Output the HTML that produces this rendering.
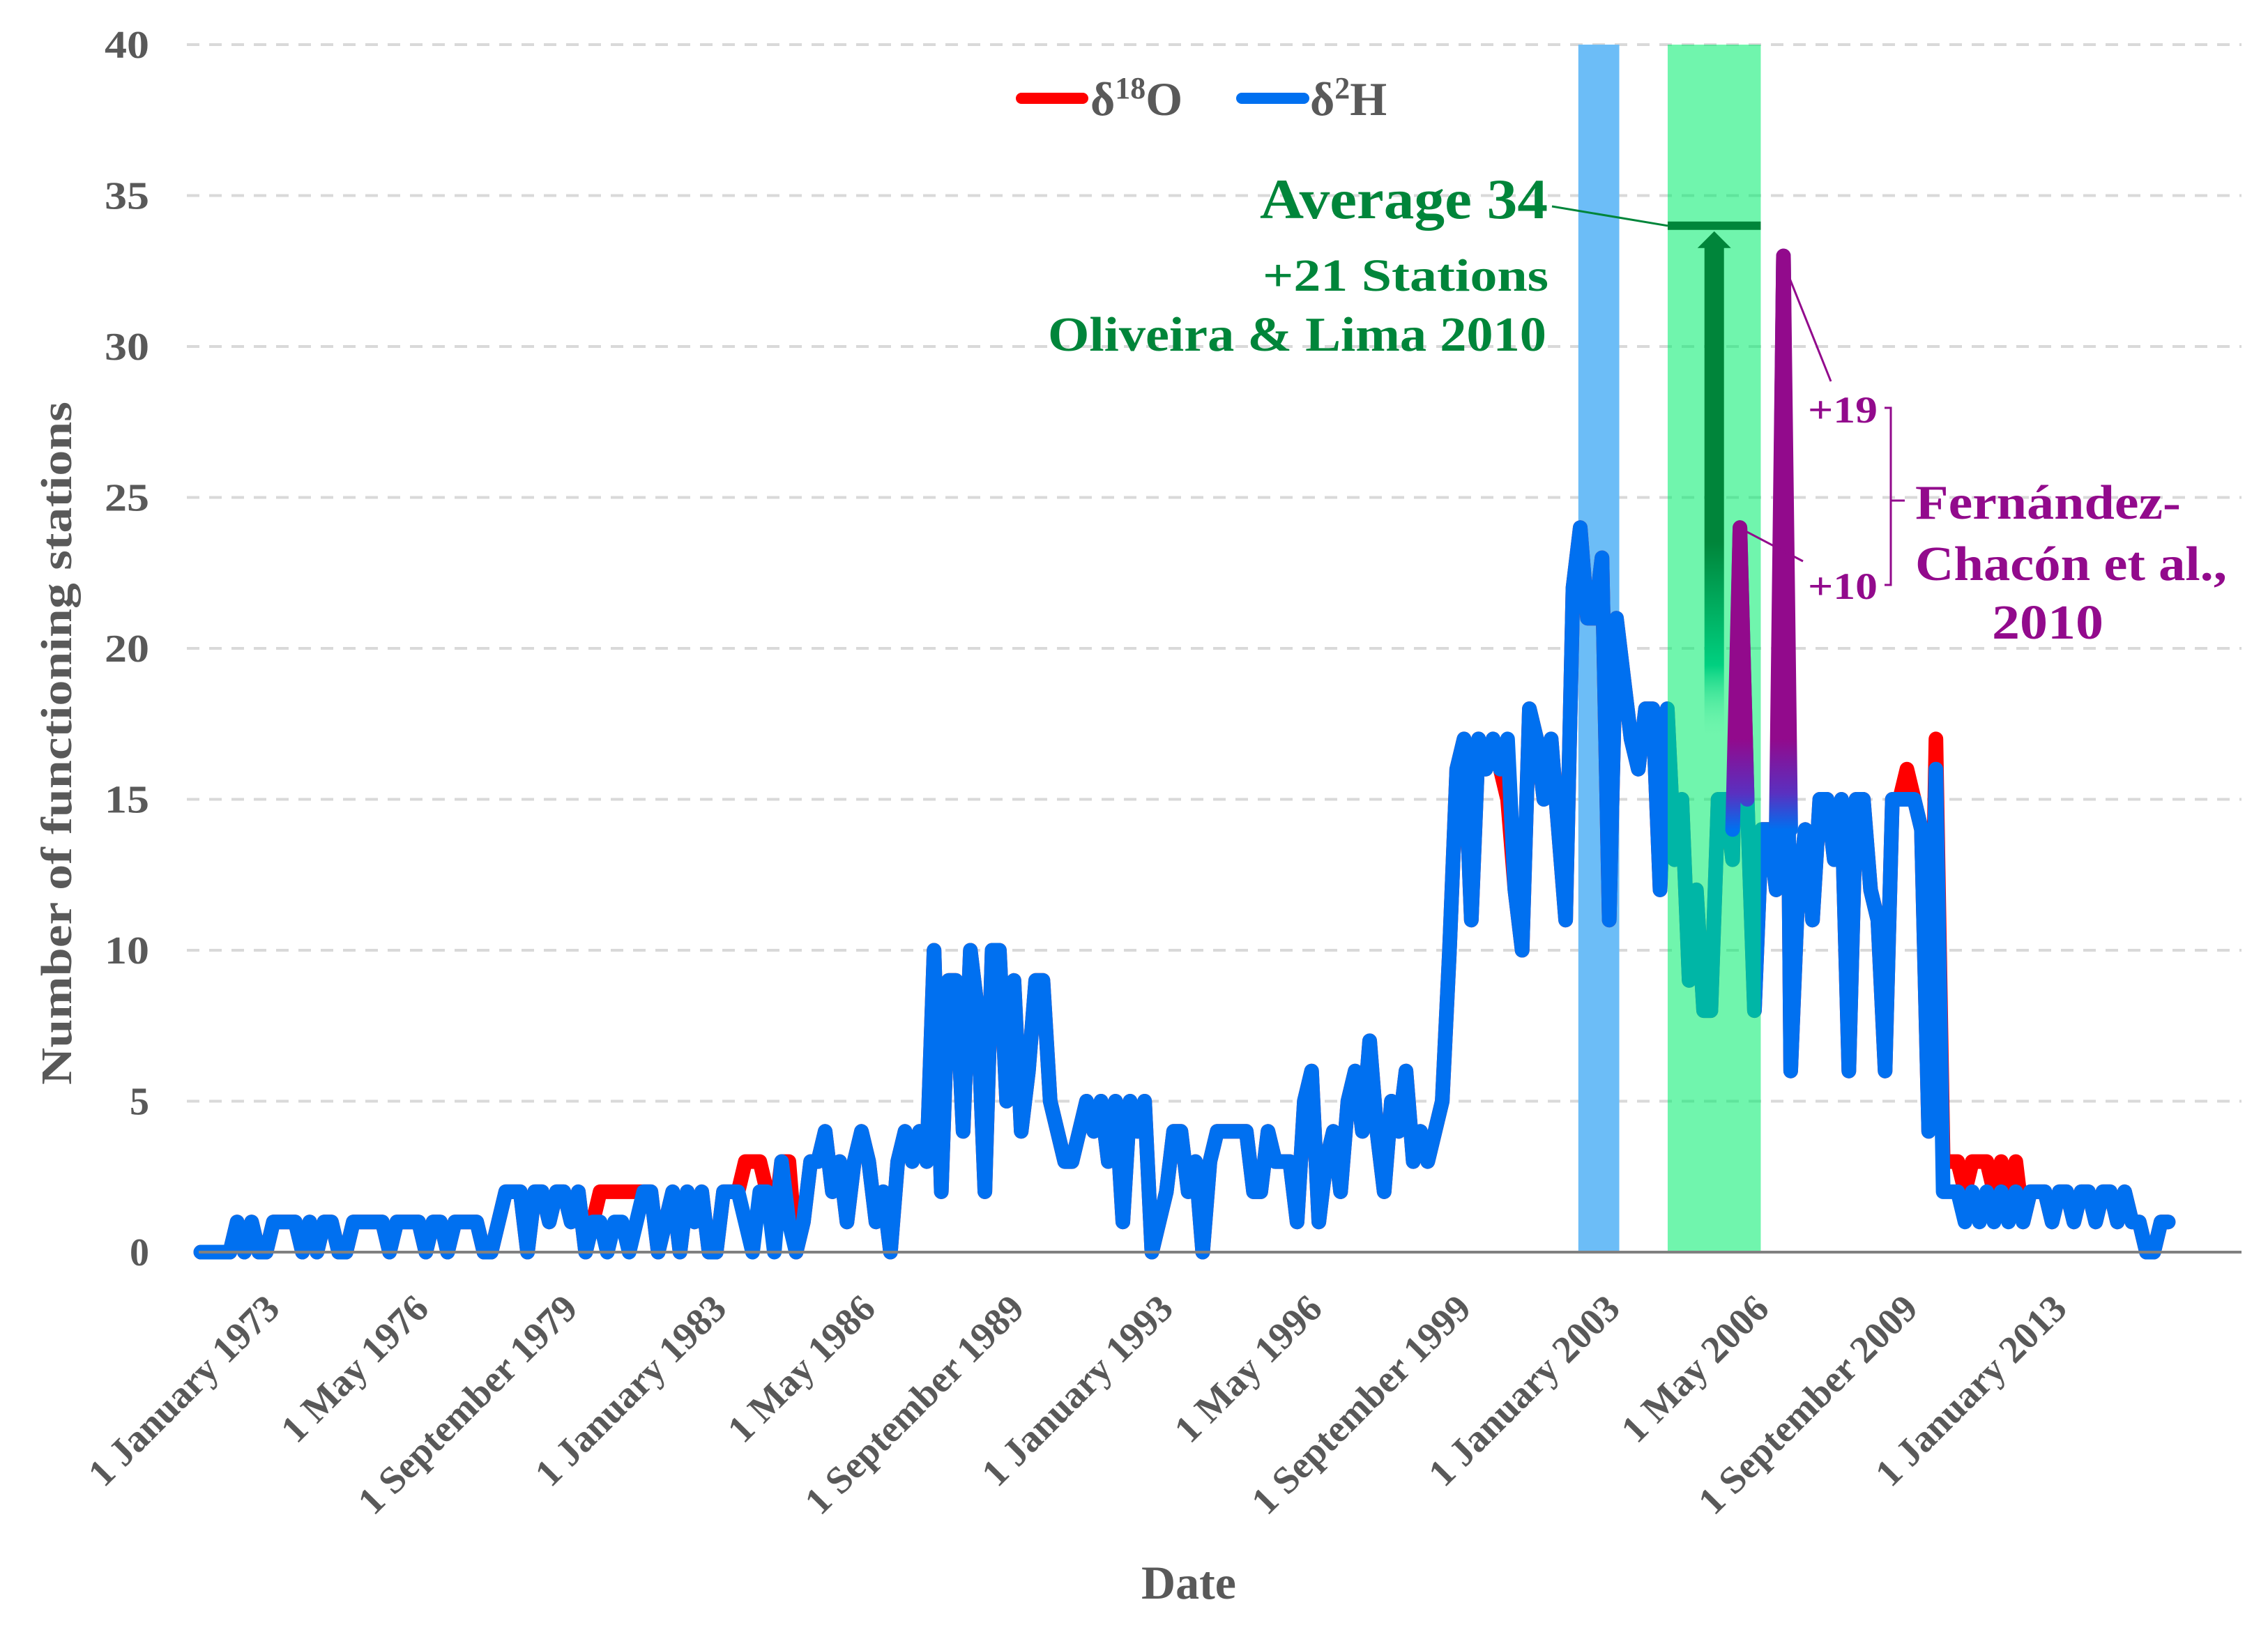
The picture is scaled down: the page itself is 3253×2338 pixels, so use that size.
<!DOCTYPE html>
<html><head><meta charset="utf-8">
<style>
html,body{margin:0;padding:0;background:#fff;}
svg{display:block;font-family:"Liberation Serif",serif;font-weight:bold;}
</style></head>
<body>
<svg id="chart" width="3253" height="2338" viewBox="0 0 3253 2338" xmlns="http://www.w3.org/2000/svg">
<defs>
<linearGradient id="arrowGrad" x1="0" y1="0" x2="0" y2="1">
<stop offset="0" stop-color="#00853a"/><stop offset="0.6" stop-color="#00853a"/><stop offset="0.85" stop-color="#00d080"/><stop offset="1" stop-color="#70f5ad" stop-opacity="0"/>
</linearGradient>
</defs>
<g id="grid"></g>
<g id="bands"></g>
<g id="series"></g>
<g id="overlay"></g>
<g id="axes"></g>
<text x="0" y="0" transform="translate(102,1066) rotate(-90)" text-anchor="middle" font-size="62" fill="#595959" textLength="980" lengthAdjust="spacingAndGlyphs">Number of functioning stations</text>
<text x="1705" y="2293" text-anchor="middle" font-size="68" fill="#595959">Date</text>
<g>
<line x1="1465" y1="141" x2="1553" y2="141" stroke="#ff0000" stroke-width="16" stroke-linecap="round"/>
<text x="1564" y="165" font-size="68" fill="#595959">δ<tspan font-size="44" dy="-24">18</tspan><tspan dy="24">O</tspan></text>
<line x1="1781" y1="141" x2="1870" y2="141" stroke="#0070f0" stroke-width="16" stroke-linecap="round"/>
<text x="1879" y="165" font-size="68" fill="#595959">δ<tspan font-size="44" dy="-24">2</tspan><tspan dy="24">H</tspan></text>
</g>
<g fill="#00853a">
<text x="2220" y="313" text-anchor="end" font-size="82" textLength="413" lengthAdjust="spacingAndGlyphs">Average 34</text>
<text x="2221" y="417" text-anchor="end" font-size="66" textLength="410" lengthAdjust="spacingAndGlyphs">+21 Stations</text>
<text x="2218" y="503" text-anchor="end" font-size="70" textLength="715" lengthAdjust="spacingAndGlyphs">Oliveira &amp; Lima 2010</text>
</g>
<g fill="#920a8c">
<text x="2593" y="606" font-size="54" textLength="100" lengthAdjust="spacingAndGlyphs">+19</text>
<text x="2593" y="859" font-size="54" textLength="100" lengthAdjust="spacingAndGlyphs">+10</text>
<text x="2747" y="744" font-size="70" textLength="381" lengthAdjust="spacingAndGlyphs">Fernández-</text>
<text x="2747" y="832" font-size="70" textLength="447" lengthAdjust="spacingAndGlyphs">Chacón et al.,</text>
<text x="2857" y="916" font-size="70" textLength="160" lengthAdjust="spacingAndGlyphs">2010</text>
<path d="M2703 585 H2712 V839 H2703 M2712 718 H2732" fill="none" stroke="#920a8c" stroke-width="3"/>
</g>
</svg>
<script>
// ---- chart data ----
const yTicks = [0,5,10,15,20,25,30,35,40];
const tickMonths = [0,40,80,120,160,200,240,280,320,360,400,440,480];
const tickLabels = ["1 January 1973","1 May 1976","1 September 1979","1 January 1983","1 May 1986","1 September 1989","1 January 1993","1 May 1996","1 September 1999","1 January 2003","1 May 2006","1 September 2009","1 January 2013"];
const monthsPerPoint = 1.95;
const d2H = [
0,0,0,0,0, 1,0,1,0,0, 1,1,1,1,0, 1,0,1,1,0, 0,1,1,1,1, 1,0,1,1,1, 1,0,1,1,0, 1,1,1,1,0,
0,1,2,2,2, 0,2,2,1,2, 2,1,2,0,1, 1,0,1,1,0, 1,2,2,0,1, 2,0,2,1,2, 0,0,2,2,2, 1,0,2,2,0,
3,1,0,1,3, 3,4,2,3,1, 3,4,3,1,2, 0,3,4,3,4, 3,10,2,9,9, 4,10,8,2,10, 10,5,9,4,6, 9,9,5,4,3,
3,4,5,4,5, 3,5,1,5,4, 5,0,1,2,4, 4,2,3,0,3, 4,4,4,4,4, 2,2,4,3,3, 3,1,5,6,1, 3,4,2,5,6,
4,7,4,2,5, 4,6,3,4,3, 4,5,10,16,17, 11,17,16,17,16, 17,12,10,18,17, 15,17,14,11,22, 24,21,21,23,11, 21,19,17,16,18,
18,12,18,13,15, 9,12,8,8,15, 15,13,24,15,8, 14,14,12,33,6, 12,14,11,15,15, 13,15,6,15,15, 12,11,6,15,15, 15,15,14,4,16,
2,2,2,1,2, 1,2,1,2,1, 2,1,2,2,2, 1,2,2,1,2, 2,1,2,2,1, 2,1,1,0,0, 1,1];
const d18O = [
0,0,0,0,0, 1,0,1,0,0, 1,1,1,1,0, 1,0,1,1,0, 0,1,1,1,1, 1,0,1,1,1, 1,0,1,1,0, 1,1,1,1,0,
0,1,2,2,2, 0,2,2,1,2, 2,1,2,0,1, 2,2,2,2,2, 2,2,2,0,1, 2,0,2,1,2, 0,0,2,2,2, 3,3,3,2,1,
3,3,0,1,3, 3,4,2,3,1, 3,4,3,1,2, 0,3,4,3,4, 3,10,2,9,9, 4,10,8,2,10, 10,5,9,4,6, 9,9,5,4,3,
3,4,5,4,5, 3,5,1,5,4, 5,0,1,2,4, 4,2,3,0,3, 4,4,4,4,4, 2,2,4,3,3, 3,1,5,6,1, 3,4,2,5,6,
4,7,4,2,5, 4,6,3,4,3, 4,5,10,16,17, 11,17,16,17,16, 15,12,10,18,17, 15,17,14,11,22, 24,21,21,23,11, 21,19,17,16,18,
18,12,18,13,15, 9,12,8,8,15, 15,13,24,15,8, 14,14,12,33,6, 12,14,11,15,15, 13,15,6,15,15, 12,11,6,15,15, 16,15,14,4,17,
3,3,3,2,3, 3,3,2,3,2, 3,1,2,2,2, 1,2,2,1,2, 2,1,2,2,1, 2,1,1,0,0, 1,1];
const spikeIdx = [212,218];
const bandBlueMonths = [370,381];
const bandGreenMonths = [394,419];
const averageValue = 34;

// ---- scales ----
const X0 = 288, PX_PER_MONTH = 5.34, Y0 = 1796, PX_PER_UNIT = 43.3;
const NS = "http://www.w3.org/2000/svg";
function xM(m){ return X0 + m*PX_PER_MONTH; }
function xI(i){ return xM(i*monthsPerPoint); }
function yV(v){ return Y0 - v*PX_PER_UNIT; }
function mk(tag, parent, attrs){ const e=document.createElementNS(NS,tag); for(const k in attrs) e.setAttribute(k,attrs[k]); parent.appendChild(e); return e; }

const grid=document.getElementById('grid'), axes=document.getElementById('axes');
yTicks.forEach(function(v){
  if(v>0){
    const g=mk('line',grid,{x1:268,x2:3215,y1:yV(v),y2:yV(v),'stroke':'#d9d9d9','stroke-width':4,'stroke-dasharray':'18 14'});
    
    
  }
  const t=mk('text',axes,{x:214,y:yV(v)+19,'text-anchor':'end','font-size':56,'fill':'#595959'});
  if(v>=10){ t.setAttribute('textLength',64); t.setAttribute('lengthAdjust','spacingAndGlyphs'); }
  
  
  t.textContent=v;
});
const ax=mk('line',axes,{x1:285,x2:3215,y1:Y0,y2:Y0,'stroke':'#808080','stroke-width':4});


tickMonths.forEach(function(m,k){
  const ax0=xM(m)+116, ay0=1880;
  const t=mk('text',axes,{x:ax0,y:ay0,'text-anchor':'end','font-size':55,'fill':'#595959','transform':'rotate(-45 '+ax0+' '+ay0+')'});
  
  
  t.textContent=tickLabels[k];
});

// bands
const bands=document.getElementById('bands');
const bb=mk('rect',bands,{x:xM(bandBlueMonths[0]),y:yV(40),width:xM(bandBlueMonths[1])-xM(bandBlueMonths[0]),height:yV(0)-yV(40),'fill':'#6cbdf7'});



// series
const series=document.getElementById('series');
function pts(arr){ return arr.map(function(v,i){return xI(i).toFixed(1)+','+yV(v).toFixed(1);}).join(' '); }
const red=mk('polyline',series,{points:pts(d18O),'fill':'none','stroke':'#ff0000','stroke-width':21,'stroke-linejoin':'round','stroke-linecap':'round'});


const blue=mk('polyline',series,{points:pts(d2H),'fill':'none','stroke':'#0070f0','stroke-width':21,'stroke-linejoin':'round','stroke-linecap':'round'});



// green band over line
const ov=document.getElementById('overlay');
const gb=mk('rect',ov,{x:xM(bandGreenMonths[0]),y:yV(40),width:xM(bandGreenMonths[1])-xM(bandGreenMonths[0]),height:yV(0)-yV(40),'fill':'rgb(0,237,109)','fill-opacity':0.56});



// purple spikes
const pg=mk('linearGradient',document.querySelector('defs'),{id:'spikeGrad',gradientUnits:'userSpaceOnUse',x1:0,y1:yV(17),x2:0,y2:yV(14)});
mk('stop',pg,{offset:0,'stop-color':'#920a8c'});
mk('stop',pg,{offset:0.6,'stop-color':'#5a30c0'});
mk('stop',pg,{offset:1,'stop-color':'#0070f0'});
spikeIdx.forEach(function(i){
  const p=[i-1,i,i+1].map(function(j){return xI(j).toFixed(1)+','+Math.min(yV(d2H[j]),yV(14)).toFixed(1);}).join(' ');
  const s=mk('polyline',ov,{points:p,'fill':'none','stroke':'url(#spikeGrad)','stroke-width':21,'stroke-linejoin':'round','stroke-linecap':'round'});
  
  
});
// leaders
const l1=mk('line',ov,{x1:xI(spikeIdx[1])+8,y1:yV(d2H[spikeIdx[1]])+30,x2:2626,y2:547,'stroke':'#920a8c','stroke-width':3});


const l2=mk('line',ov,{x1:xI(spikeIdx[0])+8,y1:yV(d2H[spikeIdx[0]])+5,x2:2586,y2:805,'stroke':'#920a8c','stroke-width':3});



// average line and arrow
const gx0=xM(bandGreenMonths[0]), gx1=xM(bandGreenMonths[1]), ax_=(gx0+gx1)/2;
const avg=mk('line',ov,{x1:gx0,x2:gx1,y1:yV(averageValue),y2:yV(averageValue),'stroke':'#00853a','stroke-width':12});


const lead=mk('line',ov,{x1:2226,y1:296,x2:gx0,y2:yV(averageValue),'stroke':'#00853a','stroke-width':3});


const shaft=mk('rect',ov,{x:ax_-14,y:yV(averageValue)+30,width:28,height:yV(17)-yV(averageValue)-30,'fill':'url(#arrowGrad)'});


const head=mk('polygon',ov,{points:(ax_-24)+','+(yV(averageValue)+32)+' '+ax_+','+(yV(averageValue)+8)+' '+(ax_+24)+','+(yV(averageValue)+32),'fill':'#00853a'});


</script>
</body></html>
